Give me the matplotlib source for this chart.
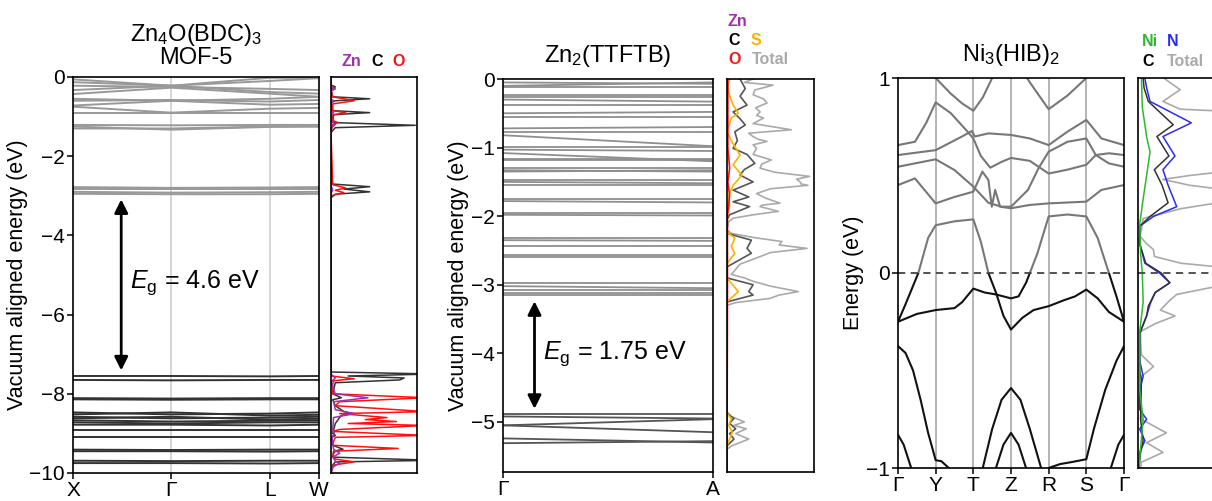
import matplotlib
matplotlib.use("Agg")
import matplotlib.pyplot as plt
from matplotlib.patches import Rectangle

plt.rcParams['font.family'] = ['Liberation Sans', 'DejaVu Sans']
plt.rcParams['mathtext.fontset'] = 'custom'
plt.rcParams['mathtext.rm'] = 'Liberation Sans'
plt.rcParams['mathtext.it'] = 'Liberation Sans:italic'
plt.rcParams['axes.linewidth'] = 1.2

# ---------------- panel 1: MOF-5 ----------------
p1_k = [0, 1, 2, 2.5]
p1_klabels = ['X', 'Γ', 'L', 'W']
# conduction bands (values at X, Γ, L, W)
p1_cb = [
    [-0.06, -0.22, -0.10, -0.03],
    [-0.13, -0.22, -0.02, -0.02],
    [-0.22, -0.25, -0.30, -0.33],
    [-0.33, -0.22, -0.38, -0.42],
    [-0.43, -0.27, -0.42, -0.50],
    [-0.55, -0.60, -0.55, -0.50],
    [-0.60, -0.58, -0.62, -0.58],
    [-0.72, -0.60, -0.70, -0.68],
    [-0.75, -0.90, -0.80, -0.78],
    [-0.90, -0.90, -0.90, -0.90],
    [-1.21, -1.22, -1.21, -1.21],
    [-1.25, -1.33, -1.26, -1.25],
    [-1.30, -1.30, -1.25, -1.25],
    [-2.78, -2.80, -2.79, -2.78],
    [-2.84, -2.84, -2.84, -2.84],
    [-2.90, -2.92, -2.91, -2.90],
    [-2.95, -2.96, -2.96, -2.95],
]
p1_vb = [
    [-7.55, -7.55, -7.56, -7.55],
    [-7.65, -7.66, -7.65, -7.65],
    [-8.11, -8.12, -8.11, -8.11],
    [-8.14, -8.15, -8.14, -8.14],
    [-8.47, -8.52, -8.50, -8.47],
    [-8.52, -8.47, -8.55, -8.53],
    [-8.58, -8.62, -8.60, -8.58],
    [-8.62, -8.58, -8.65, -8.63],
    [-8.67, -8.70, -8.68, -8.67],
    [-8.72, -8.75, -8.72, -8.72],
    [-8.78, -8.78, -8.80, -8.78],
    [-8.91, -8.91, -8.91, -8.91],
    [-9.08, -9.08, -9.08, -9.08],
    [-9.41, -9.42, -9.41, -9.41],
    [-9.45, -9.45, -9.46, -9.45],
    [-9.69, -9.70, -9.69, -9.69],
    [-9.75, -9.75, -9.76, -9.75],
]
p1_C_e = [0.0, -0.2, -0.25, -0.3, -0.5, -0.55, -0.6, -0.65, -0.85, -0.9, -0.95, -1.15, -1.22, -1.28, -1.4,
          -2.7, -2.77, -2.83, -2.9, -2.96, -3.05, -7.45, -7.5, -7.55, -7.6, -7.65, -7.72, -8.0, -8.1, -8.15,
          -8.3, -8.45, -8.5, -8.55, -8.6, -8.75, -9.0, -9.05, -9.1, -9.3, -9.4, -9.45, -9.6, -9.68, -9.72,
          -9.8, -10]
p1_C_d = [0, 0, 0.05, 0, 0.02, 0.45, 0.05, 0, 0.02, 0.45, 0.03, 0.02, 0.98, 0.05, 0,
          0, 0.45, 0.15, 0.45, 0.05, 0, 0, 1.2, 0.2, 0.85, 0.8, 0.05, 0.02, 0.12, 0.02,
          0.05, 0.15, 0.25, 0.12, 0.1, 0.05, 0.02, 0.05, 0.01, 0.02, 0.14, 0.03, 0.02, 1.2, 0.05,
          0.02, 0]
p1_O_e = [0, -0.25, -0.3, -0.35, -0.5, -0.6, -0.68, -0.85, -0.9, -0.96, -1.1, -1.15, -1.2, -1.4,
          -2.72, -2.8, -2.86, -2.92, -3.0, -7.55, -7.62, -7.67, -7.75, -8.0, -8.1, -8.2, -8.3, -8.45,
          -8.5, -8.6, -8.65, -8.7, -8.75, -8.8, -8.9, -8.95, -9.05, -9.1, -9.2, -9.3, -9.38, -9.45,
          -9.55, -9.65, -9.72, -9.8, -10]
p1_O_d = [0, 0, 0.05, 0, 0.02, 0.27, 0.02, 0.02, 0.17, 0.02, 0.02, 0.08, 0.02, 0,
          0.02, 0.17, 0.05, 0.15, 0, 0, 0.27, 0.03, 0.02, 0.02, 1.1, 0.1, 0.05, 1.1,
          0.1, 0.65, 0.4, 0.76, 0.2, 1.1, 0.1, 0.02, 1.1, 0.05, 0.03, 0.02, 0.78, 0.05,
          0.02, 0.05, 0.27, 0.03, 0]
p1_Zn_e = [0, -0.25, -0.3, -0.35, -0.55, -0.6, -0.65, -0.85, -0.9, -0.95, -1.1, -1.2, -1.3, -2.75,
           -2.85, -2.95, -7.5, -7.6, -7.7, -8.0, -8.1, -8.2, -8.4, -8.5, -8.6, -8.9, -9.0, -9.1,
           -9.4, -9.5, -9.6, -9.7, -9.75, -9.85, -10]
p1_Zn_d = [0, 0, 0.04, 0, 0, 0.03, 0, 0, 0.03, 0, 0, 0.05, 0, 0,
           0.02, 0, 0, 0.05, 0, 0.05, 0.43, 0.03, 0.05, 0.27, 0.03, 0.02, 0.04, 0.01,
           0.03, 0.1, 0.02, 0.05, 0.1, 0.02, 0]

# ---------------- panel 2: Zn2(TTFTB) ----------------
p2_cb_G = [-0.05, -0.10, -0.12, -0.23, -0.26, -0.30, -0.38, -0.50, -0.55, -0.72, -0.77, -0.82, -0.99,
           -1.03, -1.08, -1.16, -1.18, -1.30, -1.33, -1.35, -1.47, -1.50, -1.55, -1.75, -1.78, -1.96,
           -1.98, -2.32, -2.35, -2.44, -2.57, -2.60, -2.98, -3.02, -3.08, -3.12, -3.15]
p2_cb_A = [-0.07, -0.05, -0.12, -0.23, -0.26, -0.33, -0.38, -0.48, -0.55, -0.70, -0.77, -0.98, -0.99,
           -1.05, -1.20, -1.16, -1.18, -1.30, -1.35, -1.33, -1.47, -1.52, -1.55, -1.75, -1.80, -1.96,
           -1.99, -2.32, -2.36, -2.44, -2.57, -2.60, -2.98, -3.05, -3.08, -3.12, -3.15]
p2_vb_G = [-4.89, -4.92, -5.05, -5.05, -5.24, -5.31]
p2_vb_A = [-4.89, -4.95, -4.96, -5.15, -5.30, -5.28]

p2_T_e = [0, -0.05, -0.09, -0.16, -0.23, -0.29, -0.35, -0.42, -0.48, -0.53, -0.57, -0.65, -0.74, -0.79,
          -0.84, -0.88, -0.91, -0.96, -1.01, -1.1, -1.18, -1.24, -1.30, -1.36, -1.42, -1.46, -1.50,
          -1.53, -1.55, -1.6, -1.67, -1.74, -1.81, -1.84, -1.86, -1.9, -1.93, -1.98, -2.03, -2.08,
          -2.2, -2.25, -2.31, -2.37, -2.42, -2.47, -2.53, -2.59, -2.7, -2.85, -2.9, -2.95, -3.02,
          -3.1, -3.15, -3.2, -3.26, -3.3, -4.85, -4.92, -5.0, -5.05, -5.1, -5.17, -5.25, -5.35,
          -5.4, -5.73]
p2_T_d = [0.3, 0.2, 0.53, 0.32, 0.30, 0.42, 0.46, 0.33, 0.38, 0.34, 0.42, 0.3, 0.74, 0.25,
          0.30, 0.36, 0.46, 0.3, 0.34, 0.3, 0.51, 0.4, 0.38, 0.55, 0.95, 0.8, 0.84,
          0.85, 0.93, 0.5, 0.34, 0.45, 0.61, 0.4, 0.38, 0.5, 0.59, 0.3, 0.07, 0.02,
          0.0, 0.05, 0.3, 0.63, 0.6, 0.92, 0.5, 0.38, 0.15, 0.05, 0.2, 0.30, 0.5,
          0.82, 0.6, 0.49, 0.1, 0.0, 0.0, 0.05, 0.2, 0.08, 0.22, 0.1, 0.25, 0.05,
          0.0, 0.0]
p2_C_e = [0, -0.14, -0.25, -0.38, -0.48, -0.58, -0.67, -0.77, -0.9, -1.01, -1.1, -1.23, -1.32, -1.4,
          -1.5, -1.62, -1.72, -1.79, -1.86, -1.98, -2.05, -2.25, -2.35, -2.47, -2.54, -2.74, -2.9,
          -3.0, -3.1, -3.15, -3.25, -4.88, -4.95, -5.02, -5.1, -5.17, -5.25, -5.35, -5.73]
p2_C_d = [0.15, 0.21, 0.15, 0.23, 0.07, 0.15, 0.21, 0.09, 0.12, 0.07, 0.23, 0.32, 0.2, 0.15,
          0.30, 0.07, 0.25, 0.07, 0.26, 0.03, 0.0, 0.0, 0.28, 0.23, 0.28, 0.0, 0.0,
          0.30, 0.25, 0.30, 0.0, 0.0, 0.08, 0.03, 0.1, 0.03, 0.08, 0.0, 0.0]
p2_S_e = [0, -0.1, -0.2, -0.38, -0.5, -0.57, -0.77, -0.9, -1.11, -1.25, -1.4, -1.48, -1.55, -1.7,
          -1.85, -2.0, -2.23, -2.32, -2.44, -2.54, -2.69, -2.9, -3.1, -3.25, -4.88, -4.95, -5.05,
          -5.15, -5.25, -5.35, -5.73]
p2_S_d = [0.03, 0.01, 0.02, 0.07, 0.13, 0.05, 0.0, 0.05, 0.15, 0.07, 0.17, 0.12, 0.07, 0.02,
          0.03, 0.0, 0.0, 0.09, 0.05, 0.09, 0.0, 0.0, 0.13, 0.0, 0.0, 0.05, 0.02,
          0.06, 0.03, 0.0, 0.0]
p2_O_e = [0, -1.0, -1.3, -1.5, -1.7, -2.0, -3.25, -5.73]
p2_O_d = [0.01, 0.01, 0.03, 0.01, 0.03, 0.005, 0.005, 0]

# ---------------- panel 3: Ni3(HIB)2 ----------------
p3_klabels = ['Γ', 'Y', 'T', 'Z', 'R', 'S', 'Γ']
p3_bands = [
    ([0.95, 1.0, 1.4, 1.7, 2.0, 2.25, 2.5, 2.55], [1.05, 1.0, 0.92, 0.87, 0.832, 0.9, 1.0, 1.05]),
    ([3.3, 3.35, 3.6, 4.0, 4.5, 5.0, 5.05], [1.05, 1.02, 0.95, 0.84, 0.91, 1.0, 1.05]),
    ([0, 0.45, 0.75, 1.0, 1.4, 1.8, 2.0, 2.2, 2.45, 2.75, 3.0, 3.5, 4.0, 4.5, 5.0, 5.25, 5.6, 6.0],
     [0.656, 0.673, 0.77, 0.875, 0.82, 0.735, 0.69, 0.60, 0.54, 0.57, 0.59, 0.575, 0.51, 0.53, 0.555,
      0.605, 0.614, 0.605]),
    ([0, 1.0, 1.7, 1.96, 2.04, 2.4, 3.0, 3.5, 4.0, 4.5, 5.0, 5.4, 6.0],
     [0.605, 0.63, 0.70, 0.728, 0.70, 0.716, 0.708, 0.69, 0.656, 0.725, 0.785, 0.69, 0.656]),
    ([0, 1.0, 1.5, 2.0, 2.4, 2.75, 3.0, 3.45, 3.73, 4.0, 4.5, 5.0, 5.25, 5.6, 6.0],
     [0.545, 0.583, 0.528, 0.443, 0.36, 0.34, 0.34, 0.426, 0.537, 0.622, 0.673, 0.69, 0.605, 0.562, 0.545]),
    ([0, 0.45, 1.0, 1.5, 2.0, 2.24, 2.4, 2.49, 2.58, 2.71, 3.0, 3.5, 4.0, 5.0, 5.4, 6.0],
     [0.451, 0.485, 0.357, 0.39, 0.417, 0.52, 0.477, 0.34, 0.426, 0.34, 0.332, 0.349, 0.357, 0.366,
      0.426, 0.451]),
    ([0, 0.2, 0.54, 0.8, 1.0, 1.5, 2.0, 2.2, 2.4, 2.6, 2.8, 3.0, 3.3, 3.6, 4.0, 4.4, 4.7, 5.0, 5.3,
      5.6, 6.0],
     [-0.25, -0.16, 0.0, 0.18, 0.245, 0.265, 0.275, 0.16, 0.0, -0.1, -0.22, -0.29, -0.23, -0.19,
      -0.17, -0.14, -0.12, -0.085, -0.13, -0.2, -0.25]),
    ([0, 0.5, 1.0, 1.5, 1.7, 2.0, 2.3, 2.6, 3.0, 3.2, 3.4, 3.5, 3.7, 4.0, 4.5, 5.0, 5.3, 5.6, 5.8, 6.0],
     [-0.25, -0.21, -0.19, -0.18, -0.15, -0.08, -0.1, -0.11, -0.13, -0.12, -0.05, 0.0, 0.1, 0.29,
      0.3, 0.29, 0.18, 0.0, -0.12, -0.25]),
    ([0, 0.2, 0.4, 0.6, 0.8, 1.0, 1.15, 1.35, 1.5],
     [-0.375, -0.41, -0.5, -0.65, -0.82, -0.96, -0.965, -1.0, -1.05]),
    ([3.9, 4.0, 4.3, 4.6, 5.0, 5.2, 5.5, 5.8, 6.0],
     [-1.02, -1.0, -0.98, -0.97, -0.955, -0.8, -0.6, -0.45, -0.375]),
    ([2.1, 2.25, 2.5, 2.75, 3.0, 3.25, 3.5, 3.8, 3.9],
     [-1.15, -1.0, -0.8, -0.65, -0.59, -0.65, -0.8, -1.0, -1.15]),
    ([2.5, 2.6, 2.8, 3.0, 3.2, 3.4, 3.5], [-1.12, -1.0, -0.88, -0.82, -0.88, -1.0, -1.12]),
    ([0, 0.15, 0.35, 0.45], [-0.83, -0.88, -1.0, -1.08]),
    ([5.55, 5.65, 5.85, 6.0], [-1.08, -1.0, -0.88, -0.83]),
]
p3_T_e = [1.0, 0.99, 0.94, 0.88, 0.84, 0.82, 0.7, 0.545, 0.5, 0.48, 0.45, 0.40, 0.33, 0.28, 0.22,
          0.19, 0.15, 0.12, 0.085, 0.05, 0.007, -0.03, -0.07, -0.11, -0.14, -0.19, -0.22, -0.26,
          -0.3, -0.35, -0.42, -0.48, -0.53, -0.6, -0.75, -0.82, -0.87, -0.92, -0.97, -1.0]
p3_T_d = [0.3, 0.33, 0.49, 0.29, 0.49, 1.5, 1.5, 1.5, 0.6, 0.29, 0.6, 1.5, 0.5, 0.06, 0.04,
          0.02, 0.1, 0.18, 0.19, 0.5, 1.5, 1.5, 0.9, 0.45, 0.37, 0.26, 0.43, 0.2,
          0.03, 0.03, 0.04, 0.18, 0.04, 0.03, 0.04, 0.33, 0.1, 0.29, 0.04, 0.03]
p3_N_e = [1.0, 0.95, 0.88, 0.77, 0.70, 0.6, 0.53, 0.45, 0.34, 0.29, 0.24, 0.15, 0.05, 0.0, -0.05,
          -0.1, -0.16, -0.22, -0.31, -0.45, -0.53, -0.6, -0.7, -0.75, -0.8, -0.86, -0.92, -1.0]
p3_N_d = [0.08, 0.1, 0.14, 0.62, 0.29, 0.43, 0.29, 0.35, 0.45, 0.18, 0.02, 0.02, 0.08, 0.25, 0.37,
          0.2, 0.14, 0.1, 0.02, 0.02, 0.06, 0.02, 0.02, 0.1, 0.02, 0.08, 0.02, 0.01]
p3_C_e = [1.0, 0.95, 0.88, 0.76, 0.70, 0.6, 0.53, 0.45, 0.36, 0.29, 0.24, 0.15, 0.05, 0.0, -0.05,
          -0.1, -0.17, -0.22, -0.31, -0.5, -0.55, -0.75, -0.86, -0.92, -1.0]
p3_C_d = [0.06, 0.07, 0.12, 0.41, 0.22, 0.36, 0.19, 0.28, 0.35, 0.14, 0.02, 0.02, 0.09, 0.27, 0.37,
          0.2, 0.12, 0.1, 0.02, 0.02, 0.04, 0.03, 0.06, 0.03, 0.01]
p3_Ni_e = [1.0, 0.85, 0.70, 0.62, 0.5, 0.35, 0.25, 0.1, 0.0, -0.15, -0.3, -0.6, -0.75, -0.85, -1.0]
p3_Ni_d = [0.04, 0.05, 0.1, 0.14, 0.1, 0.05, 0.02, 0.03, 0.05, 0.06, 0.02, 0.02, 0.06, 0.04, 0.01]

W, H = 1212, 501
fig = plt.figure(figsize=(W / 100, H / 100), dpi=100)


def add_ax(left, top, right, bottom):
    return fig.add_axes([left / W, 1 - bottom / H, (right - left) / W, (bottom - top) / H])


def dos_ax(ax, ylim):
    ax.set_xlim(0, 1)
    ax.set_ylim(*ylim)
    ax.set_xticks([])
    ax.set_yticks([])


ZN, OC, SC, TOT, NI, NC = '#a030b0', '#ff1010', '#ffb000', '#aaaaaa', '#2cb82c', '#2a2aff'
TICKFS = 15
LABFS = 15.5
TITLEFS = 17
EGFS = 18
LEGFS = 11.5

# ---- panel 1
ax1 = add_ax(73, 77, 319, 473)
for k in [1, 2]:
    ax1.axvline(k, color='#d0d0d0', lw=1.2, zorder=0)
for b in p1_cb:
    ax1.plot(p1_k, b, color='#999999', lw=1.4)
for b in p1_vb:
    ax1.plot(p1_k, b, color='#333333', lw=1.4)
ax1.set_xlim(0, 2.5)
ax1.set_ylim(-10, 0)
ax1.set_xticks(p1_k, p1_klabels)
ax1.set_yticks([0, -2, -4, -6, -8, -10])
ax1.tick_params(labelsize=TICKFS, length=4, width=1.1, pad=2)
ax1.set_ylabel('Vacuum aligned energy (eV)', fontsize=LABFS, labelpad=1)
ax1.annotate('', xy=(0.49, -7.48), xytext=(0.49, -3.02),
             arrowprops=dict(arrowstyle='<|-|>', color='black', lw=2, mutation_scale=20))
ax1.text(0.58, -5.2, r'$E_{\rm g}$ = 4.6 eV', fontsize=EGFS, va='center')
ax1.set_title('Zn$_4$O(BDC)$_3$\nMOF-5', fontsize=TITLEFS, linespacing=1.0, pad=9)

d1 = add_ax(331, 77, 417, 473)
d1.plot(p1_C_d, p1_C_e, color='#333333', lw=1.1)
d1.plot(p1_O_d, p1_O_e, color=OC, lw=1.1)
d1.plot(p1_Zn_d, p1_Zn_e, color=ZN, lw=1.1)
dos_ax(d1, (-10, 0))
for s, x, c in [('Zn', 351, ZN), ('C', 377, 'black'), ('O', 399, OC)]:
    fig.text(x / W, 1 - 62 / H, s, color=c, fontsize=LEGFS, fontweight='bold', ha='center', va='center')

# ---- panel 2
ax2 = add_ax(503, 79, 713, 472)
for g, a in zip(p2_cb_G, p2_cb_A):
    ax2.plot([0, 1], [g, a], color='#8f8f8f', lw=1.3)
for g, a in zip(p2_vb_G, p2_vb_A):
    ax2.plot([0, 1], [g, a], color='#555555', lw=1.3)
ax2.set_xlim(0, 1)
ax2.set_ylim(-5.73, 0)
ax2.set_xticks([0, 1], ['Γ', 'A'])
ax2.set_yticks([0, -1, -2, -3, -4, -5])
ax2.tick_params(labelsize=TICKFS, length=4, width=1.1, pad=2)
ax2.set_ylabel('Vacuum aligned energy (eV)', fontsize=LABFS, labelpad=1)
ax2.annotate('', xy=(0.15, -4.85), xytext=(0.15, -3.2),
             arrowprops=dict(arrowstyle='<|-|>', color='black', lw=2, mutation_scale=20))
ax2.text(0.19, -4.0, r'$E_{\rm g}$ = 1.75 eV', fontsize=EGFS, va='center')
ax2.set_title('Zn$_2$(TTFTB)', fontsize=TITLEFS, pad=12)

d2 = add_ax(727, 79, 814, 472)
d2.plot(p2_T_d, p2_T_e, color=TOT, lw=1.2)
d2.plot(p2_C_d, p2_C_e, color='#555555', lw=1.2)
d2.plot(p2_S_d, p2_S_e, color=SC, lw=1.2)
d2.plot(p2_O_d, p2_O_e, color=OC, lw=1.2)
dos_ax(d2, (-5.73, 0))
for s, x, y, c in [('Zn', 727, 21, ZN), ('C', 728, 41, 'black'), ('S', 751, 41, SC),
                   ('O', 728, 60, OC), ('Total', 752, 60, TOT)]:
    fig.text(x / W, 1 - y / H, s, color=c, fontsize=LEGFS, fontweight='bold', ha='left', va='center')

# ---- panel 3
ax3 = add_ax(898, 78, 1124, 468)
for k in range(1, 6):
    ax3.axvline(k, color='#b5b5b5', lw=1.4, zorder=0)
for kk, ee in p3_bands:
    up, = ax3.plot(kk, ee, color='#777777', lw=1.5)
    up.set_clip_path(Rectangle((0, 0), 6, 1, transform=ax3.transData))
    dn, = ax3.plot(kk, ee, color='#111111', lw=1.5)
    dn.set_clip_path(Rectangle((0, -1), 6, 1, transform=ax3.transData))
ax3.axhline(0, color='#444444', lw=1.3, ls=(0, (4, 3)))
ax3.set_xlim(0, 6)
ax3.set_ylim(-1, 1)
ax3.set_xticks(range(7), p3_klabels)
ax3.set_yticks([1, 0, -1])
ax3.tick_params(labelsize=TICKFS, length=4, width=1.1, pad=2)
ax3.set_ylabel('Energy (eV)', fontsize=LABFS, labelpad=1)
ax3.set_title('Ni$_3$(HIB)$_2$', fontsize=TITLEFS, pad=12)

d3 = add_ax(1138, 78, 1224, 468)
d3.plot(p3_T_d, p3_T_e, color=TOT, lw=1.2)
d3.plot(p3_N_d, p3_N_e, color=NC, lw=1.1)
d3.plot(p3_C_d, p3_C_e, color='#333333', lw=1.1)
d3.plot(p3_Ni_d, p3_Ni_e, color=NI, lw=1.1)
d3.axhline(0, color='#444444', lw=1.3, ls=(0, (4, 3)))
dos_ax(d3, (-1, 1))
for s, x, y, c in [('Ni', 1142, 42, NI), ('N', 1167, 42, NC), ('C', 1142, 62, 'black'),
                   ('Total', 1167, 62, TOT)]:
    fig.text(x / W, 1 - y / H, s, color=c, fontsize=LEGFS, fontweight='bold', ha='left', va='center')

fig.savefig('out.png', dpi=100)
